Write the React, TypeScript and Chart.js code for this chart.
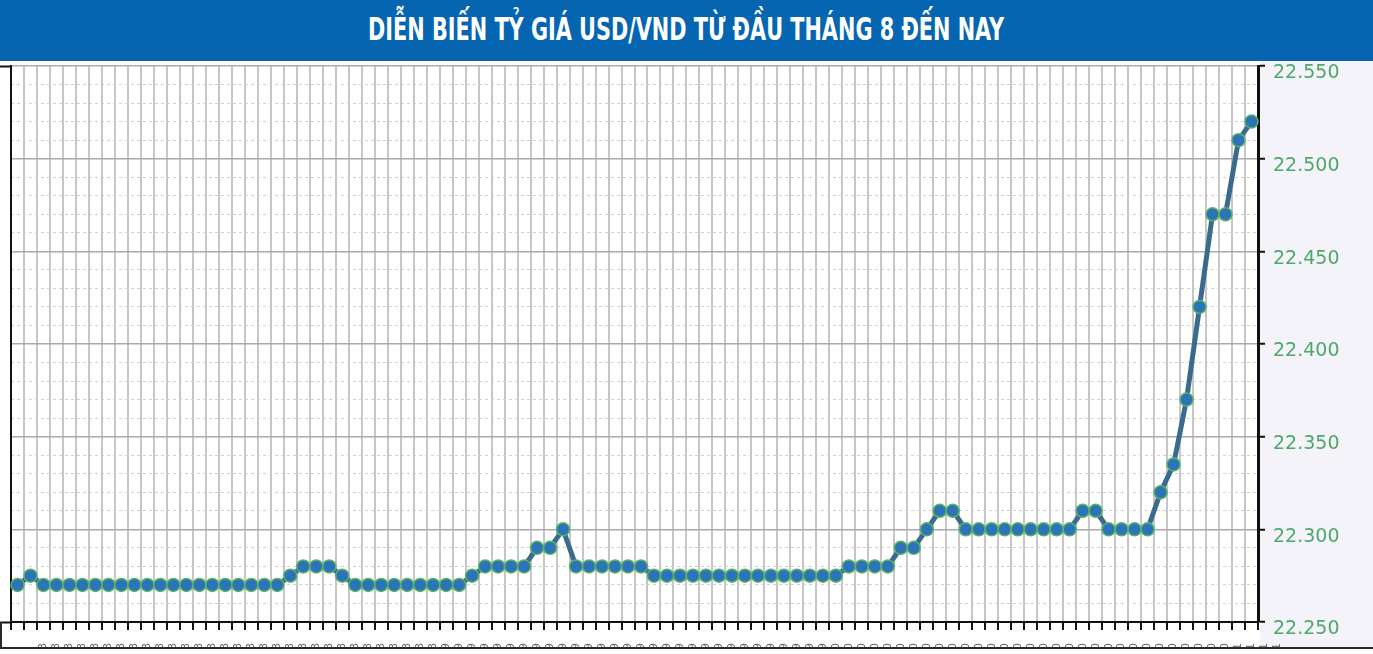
import React, { useEffect, useRef } from 'react';
import { Chart, registerables } from 'chart.js';

Chart.register(...registerables);

const TITLE = 'DIỄN BIẾN TỶ GIÁ USD/VND TỪ ĐẦU THÁNG 8 ĐẾN NAY';

const categories: string[] = [
  '01/08', '02/08', '03/08', '04/08', '05/08', '06/08', '07/08', '08/08', '09/08', '10/08',
  '11/08', '12/08', '13/08', '14/08', '15/08', '16/08', '17/08', '18/08', '19/08', '20/08',
  '21/08', '22/08', '23/08', '24/08', '25/08', '26/08', '27/08', '28/08', '29/08', '30/08',
  '31/08', '01/09', '02/09', '03/09', '04/09', '05/09', '06/09', '07/09', '08/09', '09/09',
  '10/09', '11/09', '12/09', '13/09', '14/09', '15/09', '16/09', '17/09', '18/09', '19/09',
  '20/09', '21/09', '22/09', '23/09', '24/09', '25/09', '26/09', '27/09', '28/09', '29/09',
  '30/09', '01/10', '02/10', '03/10', '04/10', '05/10', '06/10', '07/10', '08/10', '09/10',
  '10/10', '11/10', '12/10', '13/10', '14/10', '15/10', '16/10', '17/10', '18/10', '19/10',
  '20/10', '21/10', '22/10', '23/10', '24/10', '25/10', '26/10', '27/10', '28/10', '29/10',
  '30/10', '31/10', '01/11', '02/11', '03/11', '04/11',
];

const rates: number[] = [
  22270, 22275, 22270, 22270, 22270, 22270, 22270, 22270, 22270, 22270,
  22270, 22270, 22270, 22270, 22270, 22270, 22270, 22270, 22270, 22270,
  22270, 22275, 22280, 22280, 22280, 22275, 22270, 22270, 22270, 22270,
  22270, 22270, 22270, 22270, 22270, 22275, 22280, 22280, 22280, 22280,
  22290, 22290, 22300, 22280, 22280, 22280, 22280, 22280, 22280, 22275,
  22275, 22275, 22275, 22275, 22275, 22275, 22275, 22275, 22275, 22275,
  22275, 22275, 22275, 22275, 22280, 22280, 22280, 22280, 22290, 22290,
  22300, 22310, 22310, 22300, 22300, 22300, 22300, 22300, 22300, 22300,
  22300, 22300, 22310, 22310, 22300, 22300, 22300, 22300, 22320, 22335,
  22370, 22420, 22470, 22470, 22510, 22520,
];

const Y_MIN = 22250;
const Y_MAX = 22550;
const MAJOR_STEP = 50;
const MINOR_STEP = 10;

const isMajor = (ctx: any) => !!ctx.tick && ctx.tick.value % MAJOR_STEP === 0;

const framePlugin = {
  id: 'frame',
  beforeDraw(chart: any) {
    const { ctx, chartArea: a, width } = chart;
    ctx.save();
    ctx.fillStyle = '#ffffff';
    ctx.fillRect(0, 0, width, chart.height);
    ctx.fillStyle = '#f3f3f9';
    ctx.fillRect(a.right + 2, 61, width - a.right - 2, 648 - 61);
    ctx.restore();
  },
  afterDraw(chart: any) {
    const { ctx, chartArea: a, width, height } = chart;
    ctx.save();
    ctx.fillStyle = '#ffffff';
    ctx.fillRect(0, 649, width, height - 649);
    ctx.fillStyle = '#2a2a2a';
    ctx.fillRect(0, 647, width, 2);
    ctx.fillRect(0, a.bottom, 2, 647 - a.bottom);
    ctx.restore();
  },
};

export default function App() {
  const canvasRef = useRef<HTMLCanvasElement>(null);
  const titleRef = useRef<HTMLSpanElement>(null);

  useEffect(() => {
    document.body.style.margin = '0';
    const fitTitle = () => {
      const s = titleRef.current;
      if (!s) return;
      s.style.transform = 'none';
      const w = s.getBoundingClientRect().width;
      if (w > 0) s.style.transform = `scaleX(${636 / w})`;
    };
    fitTitle();
    (document as any).fonts?.ready?.then(fitTitle);

    const chart = new Chart(canvasRef.current as HTMLCanvasElement, {
      type: 'line',
      data: {
        labels: categories,
        datasets: [
          {
            data: rates,
            borderColor: '#3a6b8e',
            borderWidth: 5,
            pointRadius: 6.5,
            pointBackgroundColor: '#2d73b9',
            pointBorderColor: '#55b460',
            pointBorderWidth: 1.5,
            tension: 0,
            yAxisID: 'y',
          },
        ],
      },
      options: {
        responsive: false,
        animation: false,
        layout: { padding: { top: 66, left: 0, right: 0, bottom: 0 } },
        plugins: {
          legend: { display: false },
          tooltip: { enabled: false },
        },
        scales: {
          x: {
            type: 'category',
            offset: true,
            grid: {
              offset: true,
              color: '#c6c6c6',
              lineWidth: 2,
              tickColor: '#111111',
              tickWidth: 2,
              tickLength: 8,
            },
            border: { color: '#111111', width: 2 },
            ticks: {
              autoSkip: false,
              minRotation: 90,
              maxRotation: 90,
              padding: 13,
              labelOffset: 26,
              color: '#666666',
              font: { family: 'DejaVu Sans', size: 11 },
            },
            afterFit: (s: any) => {
              s.height = 32;
            },
          },
          yL: {
            position: 'left',
            min: Y_MIN,
            max: Y_MAX,
            afterBuildTicks: (s: any) => {
              s.ticks = [{ value: Y_MIN }, { value: Y_MAX }];
            },
            ticks: { display: false },
            grid: { drawOnChartArea: false, tickLength: 11, tickColor: '#111111', tickWidth: 2 },
            border: { color: '#111111', width: 2 },
          },
          y: {
            position: 'right',
            min: Y_MIN,
            max: Y_MAX,
            ticks: {
              stepSize: MINOR_STEP,
              maxTicksLimit: 100,
              autoSkip: false,
              callback: (v: any) => (Number(v) % MAJOR_STEP === 0 ? (Number(v) / 1000).toFixed(3) : ''),
              color: '#4fa868',
              font: { family: 'DejaVu Sans', size: 19 },
              padding: 8,
              labelOffset: 7.5,
            },
            grid: {
              color: (ctx: any) => (isMajor(ctx) ? '#a9a9a9' : '#d0d0d0'),
              lineWidth: (ctx: any) => (isMajor(ctx) ? 1.5 : 1),
              tickColor: (ctx: any) => (isMajor(ctx) ? '#111111' : 'rgba(0,0,0,0)'),
              tickWidth: 2,
              tickLength: 7,
            },
            border: {
              color: '#111111',
              width: 3,
              dash: (ctx: any) => (ctx.tick && ctx.tick.value % MAJOR_STEP !== 0 ? [3, 3] : []),
            },
            afterFit: (s: any) => {
              s.width = 115;
            },
          },
        },
      } as any,
      plugins: [framePlugin],
    });
    return () => chart.destroy();
  }, []);

  return (
    <div style={{ position: 'relative', width: 1373, height: 654, overflow: 'hidden', background: '#ffffff' }}>
      <canvas ref={canvasRef} width={1373} height={654} style={{ display: 'block' }} />
      <div
        style={{
          position: 'absolute',
          left: 0,
          top: 0,
          width: 1373,
          height: 61,
          background: '#0565b1',
          display: 'flex',
          alignItems: 'center',
          justifyContent: 'center',
        }}
      >
        <span
          ref={titleRef}
          style={{
            display: 'inline-block',
            color: '#ffffff',
            fontFamily: '"Liberation Sans Narrow", "DejaVu Sans Condensed", "Roboto", sans-serif',
            fontWeight: 'bold',
            fontSize: 32,
            lineHeight: '32px',
            whiteSpace: 'nowrap',
            transformOrigin: 'center center',
            marginTop: -3,
          }}
        >
          {TITLE}
        </span>
      </div>
    </div>
  );
}
